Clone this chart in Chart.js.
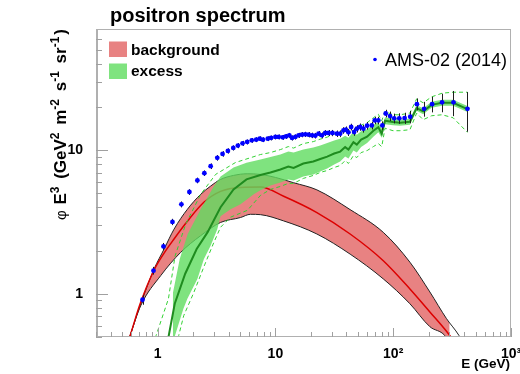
<!DOCTYPE html>
<html>
<head>
<meta charset="utf-8">
<script src="https://cdn.jsdelivr.net/npm/chart.js@4.4.1/dist/chart.umd.min.js"></script>
<style>
html,body{margin:0;padding:0;background:#ffffff;}
canvas{display:block;}
</style>
</head>
<body>
<canvas id="chart" width="520" height="374"></canvas>
<script>
// ---------------- data ----------------
// AMS-02 (2014) positron flux x E^3
const amsEnergy = [0.745,0.923,1.122,1.337,1.592,1.862,2.176,2.494,2.82,3.21,3.56,3.95,4.39,4.80,5.26,5.76,6.30,6.87,7.36,
  7.84,8.61,9.19,10.0,10.66,11.53,12.32,13.13,13.85,14.77,15.74,16.82,17.94,19.13,20.44,21.80,23.25,24.84,26.49,28.25,
  30.53,33.27,35.47,37.83,39.64,41.70,43.95,46.60,49.12,52.38,55.85,
  60.02,65.8,69.7,74.8,80.9,86.4,94,102,112.6,125,139.5,159,183,214,260,325,427];
const amsFlux = [0.909,1.45,2.14,3.17,4.20,5.12,6.17,6.93,7.75,8.86,9.44,9.90,10.39,10.78,11.18,11.43,11.73,11.86,12.05,
  11.86,12.05,12.19,12.39,12.39,12.31,12.50,12.71,12.19,12.39,12.71,12.85,12.91,12.85,12.71,12.65,13.05,12.71,13.20,13.20,
  13.20,13.05,13.05,13.76,13.91,13.33,14.53,13.41,14.14,14.53,14.14,
  14.83,14.9,16.14,16.14,14.9,18.05,17.3,16.7,16.7,16.77,17.12,20.97,19.45,20.97,21.6,21.6,19.45];
const amsErr = [0.07,0.09,0.12,0.16,0.2,0.24,0.28,0.31,0.35,0.4,0.42,0.42,0.43,0.44,0.45,0.45,0.45,0.46,0.46,
  0.46,0.46,0.47,0.47,0.48,0.48,0.49,0.5,0.5,0.51,0.52,0.53,0.54,0.55,0.56,0.57,0.58,0.6,0.62,0.64,
  0.66,0.68,0.7,0.72,0.74,0.76,0.78,0.8,0.82,0.84,0.86,
  0.9,0.92,0.95,0.98,1.0,1.1,1.3,1.3,1.4,1.5,1.7,2.0,2.3,2.6,3.2,4.3,6.0];

// background band
const bgUpperE = [0.55,0.585,0.654,0.745,0.934,1.135,1.379,1.79,2.32,2.82,3.42,4.41,5.76,7.47,10.0,14.3,22.5,43.1,82.4,138.7,204.8,283.6,362,400];
const bgUpper  = [0.44,0.512,0.682,0.923,1.49,2.05,2.82,3.88,4.93,5.63,6.26,6.68,6.86,6.79,6.47,5.94,5.30,3.86,2.68,1.66,1.03,0.671,0.512,0.44];
const bgLowerE = [0.55,0.585,0.721,1.064,1.571,2.32,3.42,5.06,6.14,7.47,11.75,22.5,43.1,82.4,138.7,204.8,274,300];
const bgLower  = [0.44,0.512,0.83,1.34,1.945,2.54,3.14,3.40,3.58,3.56,3.22,2.61,1.89,1.27,0.852,0.59,0.512,0.45];
const bgMidE   = [0.55,0.585,0.711,0.934,1.135,1.379,1.79,2.47,3.42,5.06,7.47,11.75,22.5,43.1,82.4,138.7,204.8,302,330];
const bgMid    = [0.44,0.512,0.852,1.466,1.92,2.41,3.20,4.34,5.17,5.51,5.54,4.78,3.68,2.61,1.70,1.08,0.747,0.512,0.46];

// excess band
const exMidE = [1.20,1.244,1.398,1.715,2.146,2.659,3.425,4.413,5.684,7.467,9.07,11.02,12.88,14.28,17.26,20.97,24.03,27.54,31.56,35.47,
  39.1,41.7,45.96,49.12,53.42,60.02,67.86,74.8,79.93,85.24,99.6,114.1,138.7,158.1,179.7,211.7,260.2,322.5,426.9];
const exMid  = [0.44,0.512,0.852,1.38,2.05,2.69,4.01,5.34,6.27,6.73,7.01,7.35,7.71,7.53,8.09,8.35,8.69,9.04,9.49,9.79,
  10.52,10.11,11.40,10.95,11.86,12.44,13.69,14.48,13.05,16.07,15.73,15.56,15.81,19.67,18.69,20.73,21.41,21.41,19.36];
const exFillUpE = [1.00,1.044,1.319,1.541,1.801,2.321,2.989,3.425,4.413,5.684,7.467,9.07,11.02,12.88,14.28,17.26,20.97,24.03,27.54,31.56,35.47,
  39.1,41.7,45.96,49.12,53.42,60.02,67.86,74.8,79.93,85.24,99.6,114.1,138.7,158.1,179.7,211.7,260.2,322.5,426.9];
const exFillUp  = [0.46,0.512,0.923,1.75,2.61,3.88,5.60,6.57,7.59,8.18,8.62,8.97,9.34,9.79,9.64,10.11,10.44,10.78,11.22,11.68,12.05,
  12.65,12.25,13.48,12.85,13.59,14.03,15.07,15.68,14.14,16.99,16.59,16.37,16.59,20.57,19.61,21.75,22.46,22.46,20.31];
const exFillLoE = [1.35,1.406,1.656,1.79,2.176,2.474,2.819,3.212,3.425,4.163,5.057,6.554,7.467,9.07,11.02,12.88,14.28,17.26,20.97,24.03,27.54,31.56,35.47,
  39.1,41.7,45.96,49.12,53.42,60.02,67.86,74.8,79.93,85.24,99.6,114.1,138.7,158.1,179.7,211.7,260.2,322.5,426.9];
const exFillLo  = [0.46,0.512,0.787,0.923,1.27,1.75,2.16,2.82,3.47,3.88,4.20,4.93,5.26,5.69,5.97,6.27,6.17,6.57,6.79,7.12,7.47,7.96,8.35,
  9.04,8.76,9.95,9.64,10.52,11.22,12.44,13.37,12.25,15.19,14.95,14.83,15.07,18.84,17.81,19.77,20.40,20.40,18.46];
const exDashUpE = [0.93,0.971,1.236,1.406,1.732,2.321,3.107,4.587,7.467,9.07,11.02,12.88,14.28,17.26,20.97,24.03,27.54,31.56,35.47,
  39.1,41.7,45.96,49.12,53.42,60.02,67.86,74.8,79.93,85.24,99.6,114.1,138.7,158.1,179.7,211.7,260.2,322.5,426.9];
const exDashUp  = [0.44,0.512,0.923,1.83,3.06,4.93,6.79,8.22,9.34,9.64,10.11,10.61,10.36,11.13,11.49,11.96,12.35,12.95,13.37,
  14.14,13.69,14.83,14.14,14.95,15.56,16.85,17.81,16.07,18.63,17.68,17.68,18.16,22.82,21.41,23.56,24.99,25.39,25.39];
const exDashLoE = [1.45,1.511,1.666,2.024,2.508,2.989,3.425,4.163,5.797,7.467,9.07,11.02,12.88,14.28,17.26,20.97,24.03,27.54,31.56,35.47,
  39.1,41.7,45.96,49.12,53.42,60.02,67.86,74.8,79.93,85.24,99.6,114.1,138.7,158.1,179.7,211.7,260.2,322.5,426.9];
const exDashLo  = [0.44,0.512,0.704,1.016,1.59,2.26,2.91,3.42,3.82,4.85,5.34,5.60,5.88,5.88,6.37,6.68,7.01,7.23,7.59,7.83,
  8.48,8.09,9.19,8.90,9.64,9.95,10.61,11.13,10.6,14.25,13.69,13.69,13.91,18.16,16.33,17.40,17.68,16.85,13.33];

// axes
const xRange = [0.3, 1000];
const yRange = [0.5, 70];
const xTickValues = [1, 10, 100, 1000];
const xTickLabels = ['1', '10', '10\u00B2', '10\u00B3'];
const yTickValues = [1, 10];
const yTickLabels = ['1', '10'];

// ---------------- helpers ----------------
const FONT = '"Liberation Sans", Arial, Helvetica, sans-serif';
function pts(xs, ys) { return xs.map((x, i) => ({ x: x, y: ys[i] })); }

const RED_FILL = '#e88282';
const GREEN_FILL = 'rgba(95,220,95,0.8)';

function richWidth(ctx, parts) {
  let w = 0;
  parts.forEach(p => { ctx.font = p.f; w += ctx.measureText(p.t).width + (p.gap || 0); });
  return w;
}
function drawRich(ctx, parts, x, y) {
  let cx = x;
  parts.forEach(p => {
    ctx.font = p.f;
    ctx.fillText(p.t, cx, y - (p.dy || 0));
    cx += ctx.measureText(p.t).width + (p.gap || 0);
  });
}

const decor = {
  id: 'decor',
  beforeDatasetDraw(chart, args) {
    if (args.index !== 0) return;
    const { ctx, chartArea: a, scales: { x, y } } = chart;
    ctx.save();
    ctx.beginPath();
    ctx.rect(a.left, a.top, a.right - a.left, a.bottom - a.top);
    ctx.clip();
    ctx.strokeStyle = '#1e1e1e';
    ctx.lineWidth = 1;
    ctx.beginPath();
    amsEnergy.forEach((e, i) => {
      const px = Math.round(x.getPixelForValue(e)) + 0.5;
      ctx.moveTo(px, y.getPixelForValue(amsFlux[i] + amsErr[i]));
      ctx.lineTo(px, y.getPixelForValue(amsFlux[i] - amsErr[i]));
    });
    ctx.stroke();
    ctx.restore();
  },
  afterDatasetsDraw(chart) {
    const { ctx, chartArea: a, scales: { x, y } } = chart;
    ctx.save();
    // frame
    ctx.strokeStyle = '#b0b0b0';
    ctx.lineWidth = 1;
    ctx.beginPath();
    ctx.moveTo(a.left, a.top + 0.5); ctx.lineTo(a.right, a.top + 0.5);
    ctx.moveTo(a.right - 0.5, a.top); ctx.lineTo(a.right - 0.5, a.bottom);
    ctx.moveTo(a.left, a.bottom - 0.5); ctx.lineTo(a.right, a.bottom - 0.5);
    ctx.stroke();
    ctx.lineWidth = 2;
    ctx.beginPath();
    ctx.moveTo(a.left + 1, a.top); ctx.lineTo(a.left + 1, a.bottom);
    ctx.stroke();
    // ticks
    ctx.lineWidth = 1;
    ctx.strokeStyle = '#a0a0a0';
    ctx.beginPath();
    for (let d = 0.1; d < 2000; d *= 10) {
      for (let k = 1; k <= 9; k++) {
        const v = k * d;
        if (v < xRange[0] * 0.999 || v > xRange[1] * 1.001) continue;
        const px = Math.round(x.getPixelForValue(v)) + 0.5;
        const len = k === 1 ? 9 : 5;
        ctx.moveTo(px, a.bottom); ctx.lineTo(px, a.bottom - len);
      }
    }
    for (let d = 0.1; d < 200; d *= 10) {
      for (let k = 1; k <= 9; k++) {
        const v = k * d;
        if (v < yRange[0] * 0.999 || v > yRange[1] * 0.999) continue;
        const py = Math.round(y.getPixelForValue(v)) + 0.5;
        const len = k === 1 ? 12 : 6;
        ctx.moveTo(a.left, py); ctx.lineTo(a.left + len, py);
      }
    }
    ctx.stroke();
    ctx.restore();
  },
  afterDraw(chart) {
    const { ctx } = chart;
    ctx.save();
    ctx.fillStyle = '#000';
    ctx.textBaseline = 'alphabetic';
    // title
    ctx.font = `bold 20px ${FONT}`;
    ctx.textAlign = 'left';
    ctx.fillText('positron spectrum', 110, 22);
    // legend 1
    ctx.fillStyle = RED_FILL;
    ctx.fillRect(109, 41.5, 18, 15.5);
    ctx.fillStyle = GREEN_FILL;
    ctx.fillRect(109, 63.5, 18, 15.5);
    ctx.fillStyle = '#000';
    ctx.font = `bold 15.5px ${FONT}`;
    ctx.fillText('background', 131, 54.5);
    ctx.fillText('excess', 131, 76);
    // legend 2
    ctx.fillStyle = '#0000ff';
    ctx.beginPath(); ctx.arc(375, 59.5, 1.8, 0, Math.PI * 2); ctx.fill();
    ctx.fillStyle = '#000';
    ctx.font = `18px ${FONT}`;
    ctx.fillText('AMS-02 (2014)', 385, 65.5);
    // x title
    ctx.font = `bold 13.5px ${FONT}`;
    ctx.textAlign = 'right';
    ctx.fillText('E (GeV)', 510, 367.5);
    // y title (rotated, right-aligned to top)
    ctx.textAlign = 'left';
    const B = s => `bold ${s}px ${FONT}`;
    const parts = [
      { t: '\u03C6', f: `15px ${FONT}`, gap: 1 },
      { t: ' E', f: B(17) },
      { t: '3', f: B(12), dy: 7.5, gap: 3 },
      { t: ' (GeV', f: B(17) },
      { t: '2', f: B(12), dy: 7.5, gap: 3 },
      { t: ' m', f: B(17) },
      { t: '-2', f: B(12), dy: 7.5, gap: 3 },
      { t: ' s', f: B(17) },
      { t: '-1', f: B(12), dy: 7.5, gap: 3 },
      { t: ' sr', f: B(17) },
      { t: '-1', f: B(12), dy: 7.5, gap: 2 },
      { t: ')', f: B(17) }
    ];
    const w = richWidth(ctx, parts);
    ctx.translate(66, 29 + w);
    ctx.rotate(-Math.PI / 2);
    drawRich(ctx, parts, 0, 0);
    ctx.restore();
  }
};

const lineBase = { pointRadius: 0, pointHoverRadius: 0, tension: 0, fill: false };

const chart = new Chart(document.getElementById('chart'), {
  type: 'line',
  data: {
    datasets: [
      { // 0 data points
        label: 'AMS-02 (2014)', data: pts(amsEnergy, amsFlux), showLine: false,
        pointRadius: 2.4, pointHoverRadius: 2.4, pointBackgroundColor: '#0000ff', pointBorderColor: '#0000ff',
        pointBorderWidth: 0, order: 0
      },
      Object.assign({}, lineBase, { // 1 excess dashed upper
        label: 'excUp', data: pts(exDashUpE, exDashUp), borderColor: '#33d133', borderWidth: 1, borderDash: [4, 3], order: 1
      }),
      Object.assign({}, lineBase, { // 2 excess dashed lower
        label: 'excLo', data: pts(exDashLoE, exDashLo), borderColor: '#33d133', borderWidth: 1, borderDash: [4, 3], order: 1
      }),
      Object.assign({}, lineBase, { // 3 excess central
        label: 'excess', data: pts(exMidE, exMid), borderColor: '#1f8c1f', borderWidth: 2, order: 2
      }),
      Object.assign({}, lineBase, { // 4 excess fill lower edge (invisible)
        label: 'excFillLo', data: pts(exFillLoE, exFillLo), borderColor: 'rgba(0,0,0,0)', borderWidth: 0, order: 4
      }),
      Object.assign({}, lineBase, { // 5 excess fill upper edge
        label: 'excFillUp', data: pts(exFillUpE, exFillUp), borderColor: 'rgba(0,0,0,0)', borderWidth: 0,
        fill: { target: 4 }, backgroundColor: GREEN_FILL, order: 3
      }),
      Object.assign({}, lineBase, { // 6 background central
        label: 'background', data: pts(bgMidE, bgMid), borderColor: '#dd0000', borderWidth: 1.5,
        cubicInterpolationMode: 'monotone', order: 5
      }),
      Object.assign({}, lineBase, { // 7 background lower bound
        label: 'bgLo', data: pts(bgLowerE, bgLower), borderColor: '#222222', borderWidth: 1,
        cubicInterpolationMode: 'monotone', order: 6
      }),
      Object.assign({}, lineBase, { // 8 background upper bound + band fill
        label: 'bgUp', data: pts(bgUpperE, bgUpper), borderColor: '#222222', borderWidth: 1,
        cubicInterpolationMode: 'monotone', fill: { target: 7 }, backgroundColor: RED_FILL, order: 7
      })
    ]
  },
  options: {
    responsive: false,
    animation: false,
    devicePixelRatio: 1,
    events: [],
    layout: { padding: { top: 29, right: 9, left: 0, bottom: 0 } },
    plugins: { legend: { display: false }, tooltip: { enabled: false }, title: { display: false } },
    scales: {
      x: {
        type: 'logarithmic', position: 'bottom', min: xRange[0], max: xRange[1],
        grid: { display: false }, border: { display: false },
        afterBuildTicks: s => { s.ticks = xTickValues.map(v => ({ value: v })); },
        afterFit: s => { s.height = 37; s.paddingLeft = 0; s.paddingRight = 0; },
        ticks: {
          autoSkip: false, maxRotation: 0, minRotation: 0, padding: 1, color: '#000',
          font: { family: FONT, size: 14, weight: 'bold' },
          callback: (v, i) => xTickLabels[i]
        }
      },
      y: {
        type: 'logarithmic', position: 'left', min: yRange[0], max: yRange[1],
        grid: { display: false }, border: { display: false },
        afterBuildTicks: s => { s.ticks = yTickValues.map(v => ({ value: v })); },
        afterFit: s => { s.width = 96; s.paddingTop = 0; s.paddingBottom = 0; },
        ticks: {
          autoSkip: false, padding: 5, color: '#000',
          font: { family: FONT, size: 14, weight: 'bold' },
          callback: (v, i) => yTickLabels[i]
        }
      }
    }
  },
  plugins: [decor]
});
</script>
</body>
</html>
